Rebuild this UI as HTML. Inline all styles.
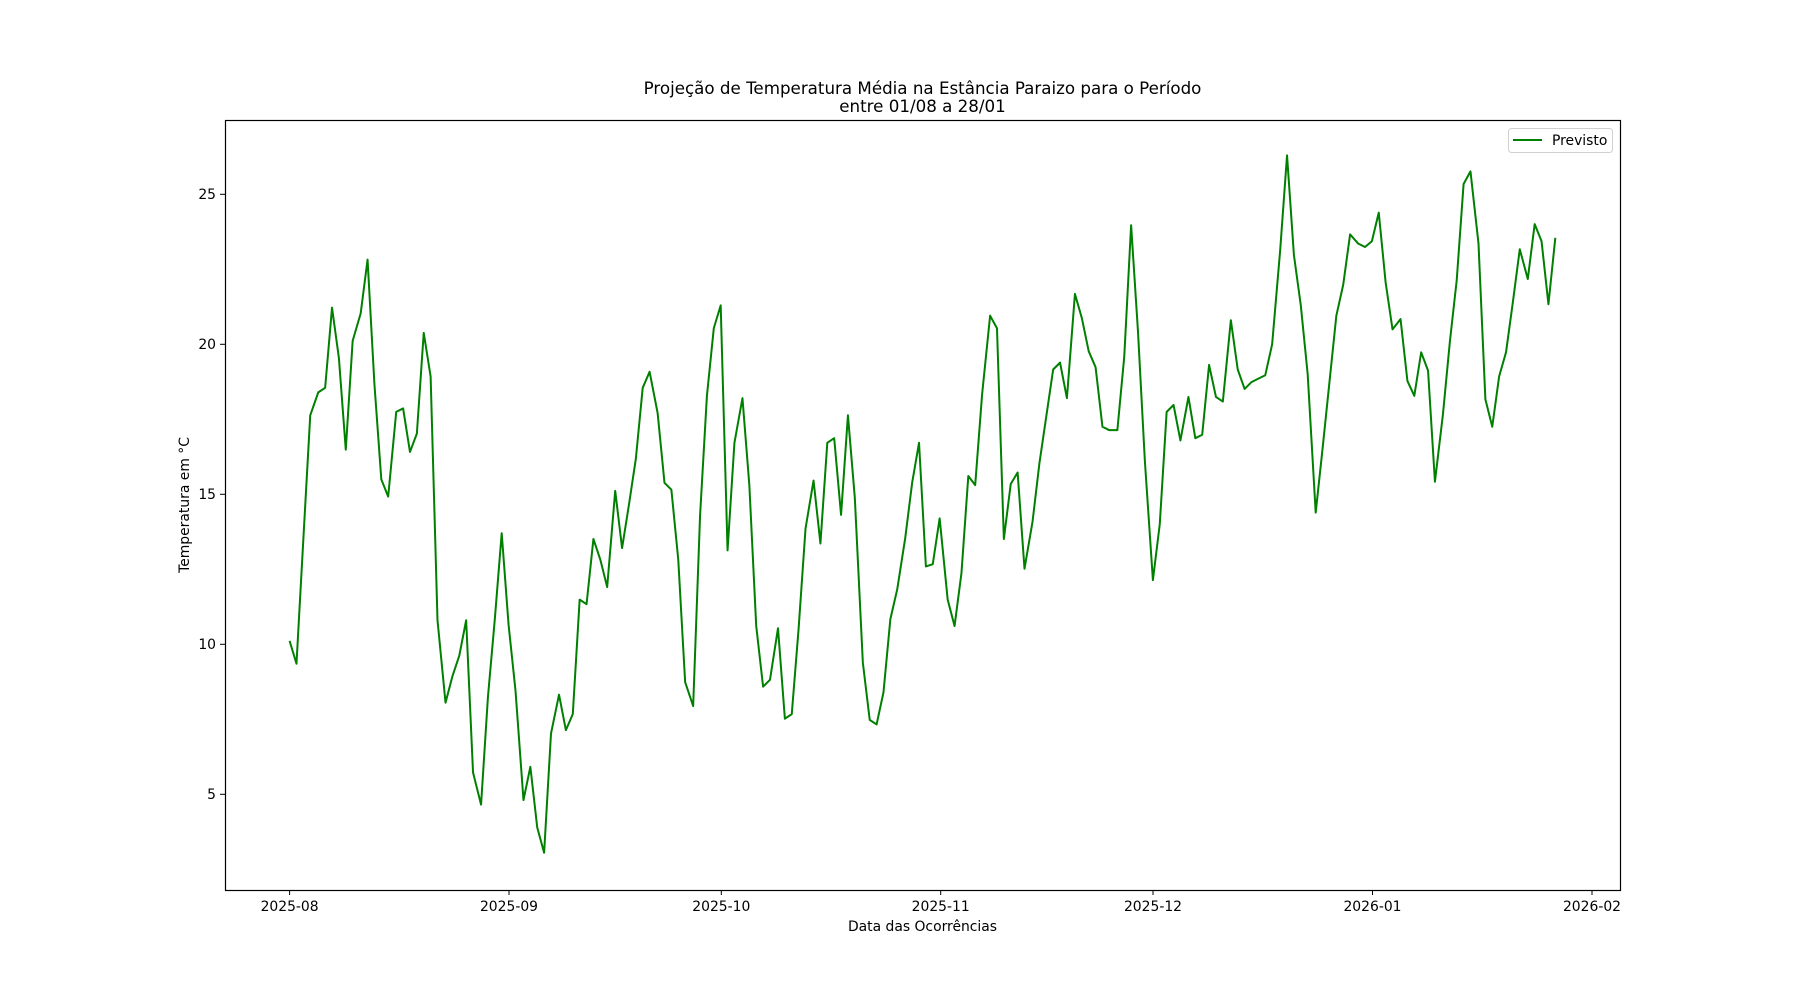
<!DOCTYPE html>
<html><head><meta charset="utf-8"><style>body{margin:0;background:#fff}svg{display:block}text{font-family:"DejaVu Sans","Liberation Sans",sans-serif;fill:#000}</style></head><body>
<svg width="1800" height="1000" viewBox="0 0 1800 1000" xmlns="http://www.w3.org/2000/svg">
<rect width="1800" height="1000" fill="#fff"/>
<text x="922.5" y="94" font-size="16.7" text-anchor="middle">Projeção de Temperatura Média na Estância Paraizo para o Período</text>
<text x="922.5" y="112" font-size="16.7" text-anchor="middle">entre 01/08 a 28/01</text>
<g stroke="#000" stroke-width="1">
<line x1="289.6" y1="890" x2="289.6" y2="895"/><line x1="509" y1="890" x2="509" y2="895"/><line x1="721.3" y1="890" x2="721.3" y2="895"/><line x1="940.7" y1="890" x2="940.7" y2="895"/><line x1="1153" y1="890" x2="1153" y2="895"/><line x1="1372.5" y1="890" x2="1372.5" y2="895"/><line x1="1592" y1="890" x2="1592" y2="895"/>
<line x1="220" y1="794.3" x2="225" y2="794.3"/><line x1="220" y1="644.3" x2="225" y2="644.3"/><line x1="220" y1="494.3" x2="225" y2="494.3"/><line x1="220" y1="344.3" x2="225" y2="344.3"/><line x1="220" y1="194.3" x2="225" y2="194.3"/>
</g>
<g font-size="13.9" text-anchor="middle">
<text x="289.6" y="911">2025-08</text><text x="509" y="911">2025-09</text><text x="721.3" y="911">2025-10</text><text x="940.7" y="911">2025-11</text><text x="1153" y="911">2025-12</text><text x="1372.5" y="911">2026-01</text><text x="1592" y="911">2026-02</text>
</g>
<g font-size="13.9" text-anchor="end">
<text x="216" y="799">5</text><text x="216" y="649">10</text><text x="216" y="499">15</text><text x="216" y="349">20</text><text x="216" y="199">25</text>
</g>
<text x="922.5" y="931" font-size="13.9" text-anchor="middle">Data das Ocorrências</text>
<text transform="translate(189,505) rotate(-90)" font-size="13.9" text-anchor="middle">Temperatura em °C</text>
<polyline fill="none" stroke="#008000" stroke-width="2" vector-effect="non-scaling-stroke" stroke-linejoin="round" transform="translate(289.6,344.3) scale(1.14648,1.145) translate(-251,-300)" points="251,559 257,579 263,470 269,362 276,342 282,338 288,268 294,312 300,392 306,297 313,273 319,226 325,335 331,418 337,433 344,359 350,356 356,394 362,378 368,290 374,328 380,541 387,613 393,590 399,572 405,541 411,674 418,702 424,608 430,540 436,465 442,545 448,602 455,698 461,669 467,722 473,744 479,640 486,606 492,637 498,623 504,523 510,527 516,470 522,488 528,512 535,428 541,478 547,440 553,400 559,338 565,324 572,360 578,421 584,427 590,488 596,595 603,616 609,450 615,345 621,286 627,266 633,480 639,386 646,347 652,423 658,546 664,599 670,593 677,548 683,627 689,623 695,548 701,461 708,419 714,474 720,386 726,382 732,449 738,362 744,434 751,578 757,628 763,632 769,604 775,540 781,514 788,469 794,421 800,386 806,494 812,492 818,452 825,523 831,546 837,500 843,415 849,423 855,344 862,275 868,286 874,470 880,422 886,412 892,496 899,455 905,404 911,363 917,322 923,316 929,347 936,256 942,277 948,306 954,320 960,372 966,375 973,375 979,311 985,196 991,289 997,402 1004,506 1010,457 1016,359 1022,353 1028,384 1035,346 1041,382 1047,379 1053,318 1059,346 1065,350 1072,279 1078,322 1084,339 1090,333 1096,330 1102,327 1108,300 1115,218 1121,135 1127,222 1133,266 1139,326 1146,447 1152,391 1158,333 1164,275 1170,248 1176,204 1183,212 1189,215 1195,210 1201,185 1207,246 1213,287 1220,278 1226,332 1232,345 1238,307 1244,323 1250,420 1257,361 1263,298 1269,244 1275,160 1281,149 1288,212 1294,348 1300,372 1306,328 1312,307 1318,263 1324,217 1331,243 1337,195 1343,210 1349,265 1355,207"/>
<rect x="225.5" y="120.5" width="1395" height="770" fill="none" stroke="#000" stroke-width="1.2"/>
<rect x="1508.5" y="128.5" width="104" height="24" rx="3" fill="#fff" fill-opacity="0.8" stroke="#d0d0d0"/>
<line x1="1513" y1="140" x2="1542" y2="140" stroke="#008000" stroke-width="2"/>
<text x="1552" y="145" font-size="13.9">Previsto</text>
</svg>
</body></html>
